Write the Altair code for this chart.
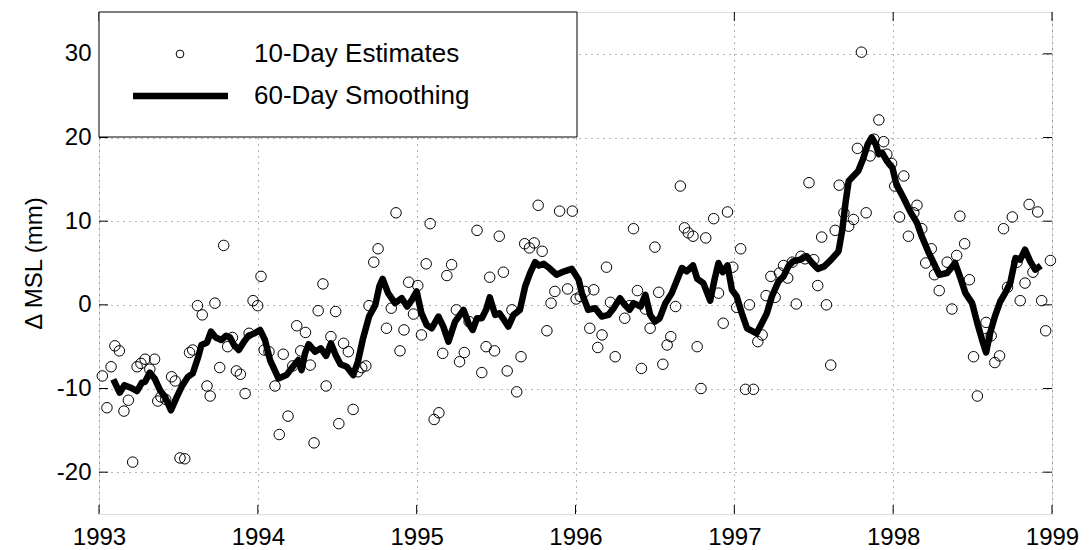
import altair as alt
import pandas as pd

# 10-day estimates (decimal year, mm)
est_t = [1993.021, 1993.05, 1993.076, 1993.10, 1993.128, 1993.157, 1993.185, 1993.212, 1993.24, 1993.264,
         1993.29, 1993.32, 1993.35, 1993.37, 1993.39, 1993.42, 1993.457, 1993.48, 1993.51, 1993.54,
         1993.57, 1993.59, 1993.62, 1993.65, 1993.68, 1993.70, 1993.73, 1993.76, 1993.785, 1993.81,
         1993.84, 1993.865, 1993.89, 1993.92, 1993.945, 1993.97, 1993.999, 1994.02, 1994.04, 1994.07,
         1994.108, 1994.135, 1994.16, 1994.19, 1994.22, 1994.245, 1994.27, 1994.30, 1994.33, 1994.354,
         1994.38, 1994.41, 1994.43, 1994.46, 1994.49, 1994.51, 1994.54, 1994.57, 1994.60, 1994.63,
         1994.654, 1994.68, 1994.70, 1994.73, 1994.757, 1994.81, 1994.84, 1994.87, 1994.895, 1994.92,
         1994.95, 1994.98, 1995.007, 1995.03, 1995.06, 1995.085, 1995.11, 1995.14, 1995.164, 1995.19,
         1995.22, 1995.25, 1995.27, 1995.30, 1995.33, 1995.38, 1995.41, 1995.437, 1995.46, 1995.49,
         1995.52, 1995.546, 1995.57, 1995.60, 1995.63, 1995.657, 1995.68, 1995.71, 1995.74, 1995.765,
         1995.79, 1995.82, 1995.846, 1995.87, 1995.90, 1995.95, 1995.98, 1996.004, 1996.03, 1996.06,
         1996.09, 1996.115, 1996.14, 1996.167, 1996.195, 1996.22, 1996.25, 1996.31, 1996.34, 1996.365,
         1996.39, 1996.415, 1996.44, 1996.47, 1996.50, 1996.524, 1996.55, 1996.577, 1996.60, 1996.63,
         1996.66, 1996.686, 1996.71, 1996.74, 1996.766, 1996.79, 1996.82, 1996.87, 1996.90, 1996.93,
         1996.957, 1996.99, 1997.015, 1997.04, 1997.07, 1997.095, 1997.12, 1997.148, 1997.175, 1997.20,
         1997.23, 1997.257, 1997.284, 1997.31, 1997.336, 1997.365, 1997.39, 1997.42, 1997.445, 1997.47,
         1997.50, 1997.525, 1997.55, 1997.58, 1997.607, 1997.635, 1997.66, 1997.69, 1997.72, 1997.75,
         1997.775, 1997.80, 1997.83, 1997.855, 1997.88, 1997.91, 1997.94, 1997.96, 1997.99, 1998.01,
         1998.04, 1998.067, 1998.096, 1998.13, 1998.15, 1998.18, 1998.205, 1998.24, 1998.26, 1998.29,
         1998.34, 1998.37, 1998.40, 1998.42, 1998.45, 1998.48, 1998.506, 1998.53, 1998.585, 1998.59,
         1998.617, 1998.64, 1998.67, 1998.695, 1998.72, 1998.75, 1998.78, 1998.80, 1998.83, 1998.856,
         1998.88, 1998.91, 1998.935, 1998.96, 1998.99]
est_v = [-8.5, -12.3, -7.4, -4.9, -5.5, -12.7, -11.4, -18.8, -7.4, -7.0,
         -6.5, -7.7, -6.5, -11.5, -11.0, -11.3, -8.6, -9.1, -18.3, -18.4,
         -5.7, -5.4, -0.1, -1.2, -9.7, -10.9, 0.2, -7.5, 7.1, -5.0,
         -3.9, -7.9, -8.3, -10.6, -3.4, 0.5, -0.1, 3.4, -5.4, -5.6,
         -9.7, -15.5, -5.9, -13.3, -7.3, -2.5, -5.5, -3.3, -7.2, -16.5,
         -0.7, 2.5, -9.7, -3.8, -0.8, -14.2, -4.6, -5.6, -12.5, -8.0,
         -7.5, -7.3, -0.1, 5.1, 6.7, -2.8, -0.4, 11.0, -5.5, -3.0,
         2.7, -1.1, 2.3, -3.6, 4.9, 9.7, -13.7, -12.9, -5.8, 3.5,
         4.8, -0.6, -6.8, -5.7, -2.0, 8.9, -8.1, -5.0, 3.3, -5.5,
         8.2, 3.9, -7.9, -0.6, -10.4, -6.2, 7.3, 6.8, 7.4, 11.9,
         6.4, -3.1, 0.2, 1.6, 11.2, 1.9, 11.2, 0.7, 1.0, 1.6,
         -2.8, 1.8, -5.1, -3.6, 4.5, 0.3, -6.2, -1.6, -0.1, 9.1,
         1.7, -7.6, -0.5, -2.8, 6.9, 1.5, -7.1, -4.8, -3.8, -0.2,
         14.2, 9.2, 8.6, 8.2, -5.0, -10.0, 8.0, 10.3, 1.4, -2.2,
         11.1, 4.5, -0.3, 6.7, -10.1, 0.0, -10.1, -4.4, -3.6, 1.1,
         3.4, 0.9, 3.8, 4.7, 3.2, 5.1, 0.1, 5.8, 5.5, 14.6,
         5.4, 2.3, 8.1, 0.0, -7.2, 8.9, 14.3, 11.0, 9.4, 10.2,
         18.7, 30.2, 11.0, 17.8, 19.8, 22.1, 19.5, 18.0, 16.9, 14.2,
         10.5, 15.4, 8.2, 11.0, 11.9, 9.1, 5.0, 6.7, 3.6, 1.7,
         5.1, -0.5, 5.9, 10.6, 7.3, 3.0, -6.2, -10.9, -2.1, -4.0,
         -3.7, -6.9, -6.1, 9.1, 2.1, 10.5, 5.1, 0.5, 2.6, 12.0,
         3.9, 11.1, 0.5, -3.1, 5.3]

# 60-day smoothing (decimal year, mm)
smooth_t = [1993.09, 1993.13, 1993.16, 1993.20, 1993.24, 1993.27, 1993.29, 1993.32, 1993.35, 1993.384,
            1993.416, 1993.453, 1993.49, 1993.52, 1993.56, 1993.59, 1993.625, 1993.645, 1993.68, 1993.705,
            1993.735, 1993.77, 1993.80, 1993.825, 1993.85, 1993.88, 1993.91, 1993.94, 1993.98, 1994.014,
            1994.045, 1994.077, 1994.13, 1994.18, 1994.22, 1994.255, 1994.275, 1994.297, 1994.32, 1994.36,
            1994.396, 1994.43, 1994.46, 1994.49, 1994.52, 1994.56, 1994.60, 1994.63, 1994.66, 1994.70,
            1994.74, 1994.765, 1994.786, 1994.82, 1994.864, 1994.906, 1994.94, 1994.97, 1995.0, 1995.03,
            1995.063, 1995.095, 1995.137, 1995.168, 1995.20, 1995.242, 1995.295, 1995.326, 1995.353, 1995.38,
            1995.41, 1995.437, 1995.46, 1995.494, 1995.52, 1995.55, 1995.577, 1995.61, 1995.65, 1995.683,
            1995.714, 1995.746, 1995.77, 1995.80, 1995.835, 1995.88, 1995.93, 1995.977, 1996.02, 1996.04,
            1996.08, 1996.124, 1996.165, 1996.207, 1996.24, 1996.28, 1996.31, 1996.34, 1996.365, 1996.41,
            1996.44, 1996.47, 1996.50, 1996.53, 1996.566, 1996.606, 1996.64, 1996.67, 1996.70, 1996.74,
            1996.767, 1996.805, 1996.848, 1996.875, 1996.90, 1996.927, 1996.957, 1996.985, 1997.015, 1997.047,
            1997.08, 1997.11, 1997.14, 1997.173, 1997.205, 1997.236, 1997.278, 1997.31, 1997.34, 1997.37,
            1997.414, 1997.456, 1997.49, 1997.525, 1997.566, 1997.61, 1997.656, 1997.68, 1997.70, 1997.72,
            1997.75, 1997.78, 1997.81, 1997.84, 1997.865, 1997.89, 1997.91, 1997.93, 1997.96, 1997.995,
            1998.02, 1998.065, 1998.106, 1998.15, 1998.18, 1998.22, 1998.255, 1998.29, 1998.34, 1998.39,
            1998.42, 1998.455, 1998.497, 1998.53, 1998.56, 1998.585, 1998.61, 1998.64, 1998.674, 1998.705,
            1998.737, 1998.77, 1998.80, 1998.83, 1998.863, 1998.894, 1998.93]
smooth_v = [-8.9, -10.5, -9.6, -9.9, -10.3, -9.3, -9.2, -8.1, -8.8, -10.2,
            -11.0, -12.6, -11.0, -9.8, -8.6, -8.2, -6.2, -4.8, -4.5, -3.2,
            -3.9, -4.2, -3.7, -3.9, -4.8, -5.4, -4.5, -3.7, -3.4, -3.0,
            -4.2, -6.6, -8.8, -8.4, -7.4, -6.6, -7.8, -5.8, -4.7, -5.6,
            -5.2, -6.1, -4.6, -6.0, -7.1, -7.4, -8.4, -6.8, -4.2, -1.4,
            0.0, 2.2, 3.1, 1.4, 0.2, 0.8, -0.2, 0.6, 1.6, -1.0,
            -2.4, -2.8, -1.4, -2.6, -4.4, -2.0, -0.6, -2.2, -3.0, -1.6,
            -1.6, -0.6, 0.9, -1.2, -1.0, -1.8, -2.6, -1.2, -0.6, 2.2,
            3.8, 5.1, 4.7, 4.9, 4.4, 3.6, 4.0, 4.3, 3.0, 1.4,
            -0.6, -0.4, -1.4, -1.2, -0.4, 0.8, 0.0, -0.6, 0.2, -0.2,
            1.2, -1.2, -2.0, -1.6, 0.2, 1.4, 3.0, 4.4, 4.0, 4.7,
            3.1, 2.6, 0.5, 3.0, 5.0, 3.9, 4.7, 1.8, 1.0, -1.0,
            -2.8, -3.1, -3.4, -2.2, -1.0, 1.0, 2.8, 3.4, 4.6, 5.2,
            5.4, 5.8, 5.0, 4.3, 4.6, 5.4, 6.4, 9.0, 12.2, 14.8,
            15.4, 16.0, 17.4, 19.2, 20.0, 19.2, 18.0, 18.2, 17.2, 16.4,
            14.4, 12.8, 11.2, 9.8, 8.2, 6.4, 5.0, 3.6, 3.8, 5.0,
            3.4, 1.4, 0.2, -2.2, -4.2, -5.7, -3.4, -1.4, 0.4, 1.4,
            2.6, 5.6, 5.4, 6.6, 5.2, 4.2, 4.7]

year_ticks = [1993, 1994, 1995, 1996, 1997, 1998, 1999]
mm_ticks = [-20, -10, 0, 10, 20, 30]
legend_labels = ["10-Day Estimates", "60-Day Smoothing"]

W, H = 953, 502
FONT = "Liberation Sans"

est = pd.DataFrame({"t": est_t, "v": est_v})
smooth = pd.DataFrame({"t": smooth_t, "v": smooth_v})
xt = pd.DataFrame({"t": year_ticks})
yt = pd.DataFrame({"v": mm_ticks})
one = pd.DataFrame({"k": [0]})

xs = alt.Scale(domain=[1993, 1999], nice=False, zero=False)
ys = alt.Scale(domain=[-25, 35], nice=False, zero=False)

x_axis = alt.Axis(values=year_ticks, format="d", grid=True, gridDash=[1, 5], gridColor="black",
                  gridOpacity=0.6, ticks=False, domain=False, labelFontSize=24, labelFont=FONT,
                  labelColor="black", labelPadding=11, title=None, labelFlush=False)
y_axis = alt.Axis(values=mm_ticks, grid=True, gridDash=[1, 5], gridColor="black", gridOpacity=0.6,
                  ticks=False, domain=False, labelFontSize=24, labelFont=FONT, labelColor="black",
                  labelPadding=8, title="Δ MSL (mm)", titleFontSize=24, titleFont=FONT,
                  titleFontWeight="normal", titleColor="black", titlePadding=10, labelFlush=False,
                  labelExpr="datum.value < 0 ? '-' + (-datum.value) : '' + datum.value")

points = alt.Chart(est).mark_point(shape="circle", size=110, filled=False, stroke="black",
                                   strokeWidth=1, opacity=1).encode(
    x=alt.X("t:Q", scale=xs, axis=x_axis),
    y=alt.Y("v:Q", scale=ys, axis=y_axis),
)

line = alt.Chart(smooth).mark_line(color="black", strokeWidth=6.5, strokeJoin="round").encode(
    x=alt.X("t:Q", scale=xs),
    y=alt.Y("v:Q", scale=ys),
)

TL = 9
xtick_b = alt.Chart(xt).mark_rule(color="black", strokeWidth=1).encode(
    x=alt.X("t:Q", scale=xs), y=alt.value(H), y2=alt.value(H - TL))
xtick_t = alt.Chart(xt).mark_rule(color="black", strokeWidth=1).encode(
    x=alt.X("t:Q", scale=xs), y=alt.value(0), y2=alt.value(TL))
ytick_l = alt.Chart(yt).mark_rule(color="black", strokeWidth=1).encode(
    y=alt.Y("v:Q", scale=ys), x=alt.value(0), x2=alt.value(TL))
ytick_r = alt.Chart(yt).mark_rule(color="black", strokeWidth=1).encode(
    y=alt.Y("v:Q", scale=ys), x=alt.value(W), x2=alt.value(W - TL))

leg_box = alt.Chart(one).mark_rect(fill="white", stroke="black", strokeWidth=1).encode(
    x=alt.value(0), x2=alt.value(478), y=alt.value(0), y2=alt.value(125))
leg_pt = alt.Chart(one).mark_point(shape="circle", size=60, filled=False, stroke="black",
                                   strokeWidth=1, opacity=1).encode(
    x=alt.value(81), y=alt.value(42))
leg_t1 = alt.Chart(one).mark_text(text=legend_labels[0], align="left", baseline="middle",
                                  fontSize=26, font=FONT, color="black").encode(
    x=alt.value(155), y=alt.value(42))
leg_ln = alt.Chart(one).mark_rule(color="black", strokeWidth=6.5).encode(
    x=alt.value(34), x2=alt.value(129), y=alt.value(84))
leg_t2 = alt.Chart(one).mark_text(text=legend_labels[1], align="left", baseline="middle",
                                  fontSize=26, font=FONT, color="black").encode(
    x=alt.value(155), y=alt.value(84))

chart = alt.layer(points, line, xtick_b, xtick_t, ytick_l, ytick_r,
                  leg_box, leg_pt, leg_t1, leg_ln, leg_t2).properties(
    width=W, height=H,
    autosize=alt.AutoSizeParams(type="none"),
    padding={"left": 91, "top": 4, "right": 30, "bottom": 36},
).configure_view(stroke="black", strokeWidth=1.2).configure(background="white")

chart.save("out.html", embed_options={"renderer": "svg", "actions": False})
